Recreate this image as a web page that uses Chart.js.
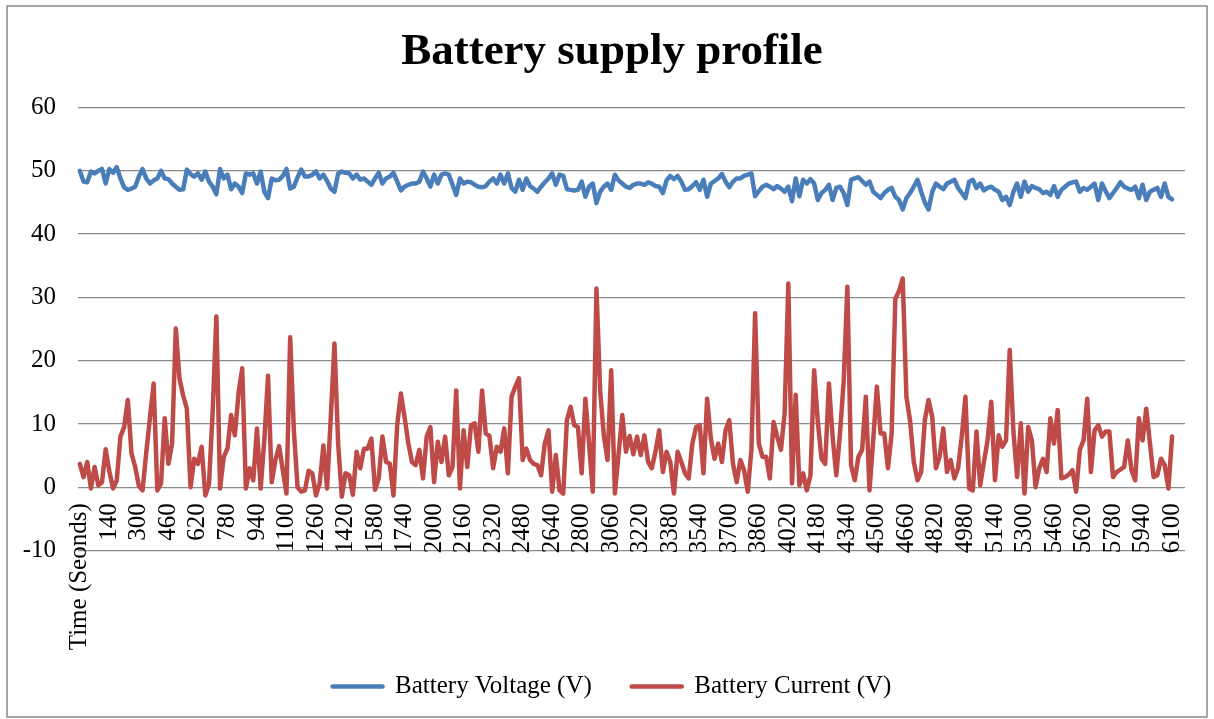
<!DOCTYPE html>
<html>
<head>
<meta charset="utf-8">
<title>Battery supply profile</title>
<script src="https://cdn.jsdelivr.net/npm/chart.js@4.4.1/dist/chart.umd.min.js"></script>
<style>
    html, body { margin: 0; padding: 0; background: #fff; }
    canvas { display: block; }
</style>
</head>
<body>
<canvas id="chart" width="1214" height="719"></canvas>
<script>
// one label shown every 8th category, the rest stay blank
const tickLabels = ['Time (Seonds)', '140', '300', '460', '620', '780', '940', '1100', '1260', '1420',
    '1580', '1740', '2000', '2160', '2320', '2480', '2640', '2800', '3060', '3220', '3380', '3540',
    '3700', '3860', '4020', '4180', '4340', '4500', '4660', '4820', '4980', '5140', '5300', '5460',
    '5620', '5780', '5940', '6100'];

const batteryVoltage = [
    50.0, 48.3, 48.2, 49.9, 49.6, 50.0, 50.3, 48.0, 50.3, 49.7,
    50.6, 48.8, 47.4, 47.0, 47.2, 47.5, 49.1, 50.3, 48.8, 48.0,
    48.5, 48.8, 50.0, 48.8, 48.7, 48.0, 47.5, 47.0, 47.1, 50.2,
    49.5, 49.1, 49.6, 48.6, 49.9, 48.3, 47.5, 46.3, 50.3, 48.8,
    49.4, 47.1, 48.0, 47.5, 46.5, 49.6, 49.4, 49.6, 48.0, 49.9,
    46.7, 45.7, 48.8, 48.5, 48.6, 49.2, 50.3, 47.2, 47.5, 49.0,
    50.2, 49.1, 49.1, 49.4, 49.9, 48.8, 49.4, 48.4, 47.2, 46.7,
    49.6, 49.9, 49.7, 49.6, 48.8, 49.4, 48.6, 48.8, 48.3, 47.8,
    48.8, 49.7, 48.0, 48.8, 49.1, 49.7, 48.3, 46.9, 47.5, 47.8,
    48.0, 48.0, 48.3, 49.9, 48.8, 47.5, 49.4, 48.0, 49.4, 49.6,
    49.4, 47.8, 46.2, 48.8, 48.0, 48.3, 48.2, 47.8, 47.5, 47.4,
    47.6, 48.3, 48.8, 48.0, 49.4, 48.0, 49.6, 47.3, 46.7, 48.6,
    47.0, 48.8, 47.6, 47.2, 46.7, 47.5, 48.2, 48.8, 49.6, 47.8,
    49.4, 49.2, 47.1, 47.0, 46.9, 47.0, 48.3, 45.9, 47.5, 48.0,
    44.9, 46.7, 47.5, 48.0, 47.0, 49.4, 48.5, 48.0, 47.5, 47.3,
    47.8, 48.0, 48.0, 47.8, 48.2, 48.0, 47.6, 47.5, 46.5, 48.5,
    49.2, 48.7, 49.2, 48.3, 47.0, 47.1, 47.6, 48.2, 47.0, 48.6,
    45.9, 48.0, 48.4, 48.8, 49.5, 48.3, 47.4, 48.3, 48.8, 48.8,
    49.2, 49.4, 49.6, 46.0, 46.8, 47.5, 47.8, 47.5, 47.1, 47.6,
    47.2, 46.7, 47.5, 45.2, 48.8, 46.0, 48.6, 48.0, 48.7, 48.0,
    45.4, 46.5, 47.0, 47.8, 45.4, 47.3, 47.5, 46.5, 44.6, 48.6,
    48.8, 49.0, 48.4, 47.8, 48.3, 46.7, 46.2, 45.7, 46.5, 47.0,
    47.3, 45.9, 45.4, 43.9, 45.7, 46.5, 47.5, 48.6, 46.7, 45.0,
    43.9, 46.7, 48.0, 47.5, 47.1, 48.0, 48.3, 48.6, 47.3, 46.5,
    45.7, 48.3, 48.6, 47.3, 48.0, 46.9, 47.3, 47.5, 47.0, 46.7,
    45.4, 45.9, 44.6, 46.7, 48.0, 45.9, 48.3, 46.7, 47.6, 47.3,
    47.1, 46.5, 46.7, 46.2, 47.6, 45.9, 47.0, 47.5, 48.0, 48.2,
    48.3, 46.7, 47.3, 47.0, 47.5, 48.0, 45.4, 48.0, 46.8, 45.7,
    46.5, 47.3, 48.2, 47.5, 47.2, 47.0, 47.5, 45.7, 47.8, 45.4,
    46.7, 47.0, 47.3, 45.9, 48.0, 45.9, 45.5,
];

const batteryCurrent = [
    3.7, 1.6, 4.0, -0.2, 3.2, 0.3, 0.8, 6.0, 2.5, -0.2,
    1.1, 8.0, 9.5, 13.8, 5.3, 3.2, 0.2, -0.5, 5.5, 11.0,
    16.4, -0.5, 0.6, 10.9, 3.7, 6.9, 25.1, 17.2, 14.5, 12.4,
    0.0, 4.5, 3.7, 6.4, -1.3, 0.5, 12.0, 27.0, -0.2, 4.8,
    6.1, 11.4, 8.2, 14.8, 18.8, -0.2, 3.0, 1.1, 9.3, -0.2,
    7.5, 17.6, 0.8, 4.3, 6.5, 2.7, -1.0, 23.7, 9.0, 0.0,
    -0.7, -0.5, 2.6, 2.2, -1.3, 0.6, 6.6, -0.2, 11.0, 22.7,
    6.9, -1.5, 2.2, 1.9, -1.2, 5.6, 3.0, 6.1, 6.1, 7.7,
    -0.4, 1.4, 8.0, 4.0, 3.7, -1.3, 9.8, 14.8, 11.1, 7.0,
    4.0, 3.5, 5.9, 1.4, 8.0, 9.5, 0.8, 7.2, 4.0, 8.0,
    1.9, 3.2, 15.3, -0.2, 9.0, 3.2, 9.8, 10.1, 5.6, 15.3,
    8.5, 8.1, 3.0, 6.4, 5.6, 9.3, 2.2, 14.3, 15.9, 17.2,
    4.3, 6.1, 4.3, 3.7, 3.5, 1.9, 6.9, 9.0, -0.7, 5.1,
    -0.5, -1.0, 10.6, 12.7, 9.8, 9.5, 2.2, 14.0, 6.9, -0.7,
    31.4, 15.3, 8.2, 4.3, 18.5, -1.0, 5.3, 11.4, 5.6, 8.1,
    5.2, 8.0, 5.1, 8.2, 4.0, 3.0, 5.6, 9.0, 2.4, 5.6,
    4.0, -1.0, 5.6, 4.0, 2.2, 1.4, 6.9, 9.5, 9.8, 2.2,
    14.0, 7.7, 4.5, 6.9, 4.0, 9.0, 10.6, 3.7, 0.8, 4.3,
    2.7, -0.7, 5.9, 27.5, 6.9, 4.8, 4.8, 1.4, 10.3, 8.0,
    5.9, 11.7, 32.2, 0.6, 14.6, 0.3, 2.2, -0.5, 1.9, 18.5,
    10.3, 4.5, 3.7, 16.4, 8.0, 1.9, 8.5, 16.7, 31.7, 3.5,
    1.1, 4.8, 5.9, 14.3, -0.5, 7.4, 15.9, 8.5, 8.5, 3.0,
    8.5, 29.8, 31.0, 33.0, 14.3, 10.5, 4.0, 1.1, 2.4, 10.6,
    13.8, 11.1, 3.0, 4.8, 9.3, 2.4, 4.3, 1.4, 3.0, 8.0,
    14.3, -0.2, -0.5, 8.8, 0.3, 4.0, 7.4, 13.5, 1.1, 8.2,
    6.4, 7.4, 21.7, 8.8, 1.6, 10.1, -1.0, 9.5, 7.4, 0.0,
    3.0, 4.5, 2.4, 10.9, 6.9, 12.2, 1.4, 1.6, 2.0, 2.7,
    -0.7, 5.9, 7.4, 14.0, 2.4, 9.0, 9.8, 8.0, 8.8, 8.8,
    1.6, 2.4, 2.8, 3.2, 7.4, 2.7, 1.1, 10.9, 7.4, 12.4,
    6.9, 1.6, 1.9, 4.5, 3.5, -0.2, 8.0,
];

const categories = Array.from({ length: 300 }, (_, i) => (i % 8 === 0 ? tickLabels[i / 8] ?? '' : ''));

Chart.defaults.font.family = "'Liberation Serif', 'Times New Roman', serif";
Chart.defaults.color = '#000';

// grey frame around the whole chart, like the spreadsheet export
const frame = {
    id: 'frame',
    afterDraw(chart) {
        const { ctx } = chart;
        ctx.save();
        ctx.strokeStyle = '#8a8a8a';
        ctx.lineWidth = 1.5;
        ctx.strokeRect(7, 6, 1200, 711);
        ctx.restore();
    },
};

function lineSet(label, data, color) {
    return {
        label,
        data,
        borderColor: color,
        backgroundColor: color,
        borderWidth: 4.5,
        borderJoinStyle: 'round',
        borderCapStyle: 'round',
        pointRadius: 0,
        pointHoverRadius: 0,
        tension: 0,
        fill: false,
    };
}

// empty axes that only hold space, so the plot lands where the original has it
function spacer(type, position, size) {
    return {
        type,
        position,
        grid: { display: false },
        border: { display: false },
        ticks: { display: false },
        afterFit(scale) {
            if (scale.isHorizontal()) {
                scale.height = size;
            } else {
                scale.width = size;
            }
        },
    };
}

new Chart(document.getElementById('chart'), {
    type: 'line',
    data: {
        labels: categories,
        datasets: [
            lineSet('Battery Voltage (V)', batteryVoltage, '#4a7ebb'),
            lineSet('Battery Current (V)', batteryCurrent, '#be4b48'),
        ],
    },
    options: {
        responsive: false,
        animation: false,
        layout: {
            padding: { left: 20, right: 10, top: 10, bottom: 10 },
        },
        plugins: {
            title: {
                display: true,
                text: 'Battery supply profile',
                font: { size: 45, weight: 'bold' },
                color: '#000',
                padding: { top: 15, bottom: 28.6 },
            },
            legend: {
                position: 'bottom',
                labels: {
                    usePointStyle: true,
                    pointStyle: 'line',
                    pointStyleWidth: 50,
                    padding: 40,
                    font: { size: 25 },
                    color: '#000',
                    generateLabels(chart) {
                        return Chart.defaults.plugins.legend.labels.generateLabels(chart).map((item) => ({
                            ...item,
                            lineWidth: 4.5,
                            lineCap: 'round',
                        }));
                    },
                },
            },
            tooltip: { enabled: false },
        },
        scales: {
            x: {
                position: { y: 0 },
                offset: true,
                grid: { display: false, drawTicks: false },
                border: { display: false },
                ticks: {
                    autoSkip: false,
                    minRotation: 90,
                    maxRotation: 90,
                    padding: 16,
                    font: { size: 25 },
                    color: '#000',
                },
                afterFit(scale) {
                    // rotated labels hang below the zero line, no side padding needed
                    scale.paddingLeft = 0;
                    scale.paddingRight = 0;
                },
            },
            y: {
                min: -10,
                max: 60,
                ticks: {
                    stepSize: 10,
                    padding: 22,
                    font: { size: 25 },
                    color: '#000',
                },
                grid: {
                    color: '#8c8c8c',
                    lineWidth: 1.3,
                    drawTicks: false,
                },
                border: { display: false },
                afterFit(scale) {
                    scale.width = 58;
                },
            },
            xPad: spacer('category', 'bottom', 83.5),
            yPad: spacer('linear', 'right', 19),
        },
    },
    plugins: [frame],
});
</script>
</body>
</html>
